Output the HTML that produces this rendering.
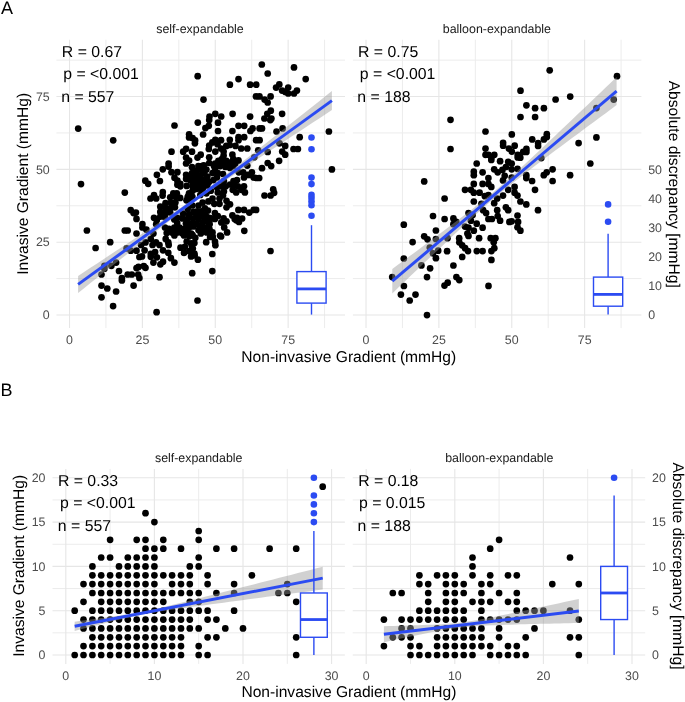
<!DOCTYPE html>
<html><head><meta charset="utf-8"><style>
html,body{margin:0;padding:0;background:#fff;}
svg{display:block;font-family:"Liberation Sans", sans-serif;will-change:transform;text-rendering:geometricPrecision;}
</style></head><body>
<svg width="685" height="702" viewBox="0 0 685 702">
<rect width="685" height="702" fill="#fff"/>
<line x1="56.40" x2="345.00" y1="278.59" y2="278.59" stroke="#ececec" stroke-width="1"/>
<line x1="56.40" x2="345.00" y1="205.76" y2="205.76" stroke="#ececec" stroke-width="1"/>
<line x1="56.40" x2="345.00" y1="132.94" y2="132.94" stroke="#ececec" stroke-width="1"/>
<line x1="56.40" x2="345.00" y1="60.11" y2="60.11" stroke="#ececec" stroke-width="1"/>
<line x1="105.95" x2="105.95" y1="39.70" y2="328.10" stroke="#ececec" stroke-width="1"/>
<line x1="178.83" x2="178.83" y1="39.70" y2="328.10" stroke="#ececec" stroke-width="1"/>
<line x1="251.71" x2="251.71" y1="39.70" y2="328.10" stroke="#ececec" stroke-width="1"/>
<line x1="324.58" x2="324.58" y1="39.70" y2="328.10" stroke="#ececec" stroke-width="1"/>
<line x1="56.40" x2="345.00" y1="315.00" y2="315.00" stroke="#e6e6e6" stroke-width="1.1"/>
<line x1="56.40" x2="345.00" y1="242.18" y2="242.18" stroke="#e6e6e6" stroke-width="1.1"/>
<line x1="56.40" x2="345.00" y1="169.35" y2="169.35" stroke="#e6e6e6" stroke-width="1.1"/>
<line x1="56.40" x2="345.00" y1="96.53" y2="96.53" stroke="#e6e6e6" stroke-width="1.1"/>
<line x1="69.52" x2="69.52" y1="39.70" y2="328.10" stroke="#e6e6e6" stroke-width="1.1"/>
<line x1="142.39" x2="142.39" y1="39.70" y2="328.10" stroke="#e6e6e6" stroke-width="1.1"/>
<line x1="215.27" x2="215.27" y1="39.70" y2="328.10" stroke="#e6e6e6" stroke-width="1.1"/>
<line x1="288.14" x2="288.14" y1="39.70" y2="328.10" stroke="#e6e6e6" stroke-width="1.1"/>
<line x1="352.90" x2="641.40" y1="278.59" y2="278.59" stroke="#ececec" stroke-width="1"/>
<line x1="352.90" x2="641.40" y1="205.76" y2="205.76" stroke="#ececec" stroke-width="1"/>
<line x1="352.90" x2="641.40" y1="132.94" y2="132.94" stroke="#ececec" stroke-width="1"/>
<line x1="352.90" x2="641.40" y1="60.11" y2="60.11" stroke="#ececec" stroke-width="1"/>
<line x1="402.45" x2="402.45" y1="39.70" y2="328.10" stroke="#ececec" stroke-width="1"/>
<line x1="475.33" x2="475.33" y1="39.70" y2="328.10" stroke="#ececec" stroke-width="1"/>
<line x1="548.20" x2="548.20" y1="39.70" y2="328.10" stroke="#ececec" stroke-width="1"/>
<line x1="621.08" x2="621.08" y1="39.70" y2="328.10" stroke="#ececec" stroke-width="1"/>
<line x1="352.90" x2="641.40" y1="315.00" y2="315.00" stroke="#e6e6e6" stroke-width="1.1"/>
<line x1="352.90" x2="641.40" y1="242.18" y2="242.18" stroke="#e6e6e6" stroke-width="1.1"/>
<line x1="352.90" x2="641.40" y1="169.35" y2="169.35" stroke="#e6e6e6" stroke-width="1.1"/>
<line x1="352.90" x2="641.40" y1="96.53" y2="96.53" stroke="#e6e6e6" stroke-width="1.1"/>
<line x1="366.02" x2="366.02" y1="39.70" y2="328.10" stroke="#e6e6e6" stroke-width="1.1"/>
<line x1="438.89" x2="438.89" y1="39.70" y2="328.10" stroke="#e6e6e6" stroke-width="1.1"/>
<line x1="511.77" x2="511.77" y1="39.70" y2="328.10" stroke="#e6e6e6" stroke-width="1.1"/>
<line x1="584.64" x2="584.64" y1="39.70" y2="328.10" stroke="#e6e6e6" stroke-width="1.1"/>
<line x1="52.50" x2="344.90" y1="632.85" y2="632.85" stroke="#ececec" stroke-width="1"/>
<line x1="52.50" x2="344.90" y1="588.55" y2="588.55" stroke="#ececec" stroke-width="1"/>
<line x1="52.50" x2="344.90" y1="544.25" y2="544.25" stroke="#ececec" stroke-width="1"/>
<line x1="52.50" x2="344.90" y1="499.95" y2="499.95" stroke="#ececec" stroke-width="1"/>
<line x1="110.10" x2="110.10" y1="468.90" y2="663.90" stroke="#ececec" stroke-width="1"/>
<line x1="198.70" x2="198.70" y1="468.90" y2="663.90" stroke="#ececec" stroke-width="1"/>
<line x1="287.30" x2="287.30" y1="468.90" y2="663.90" stroke="#ececec" stroke-width="1"/>
<line x1="52.50" x2="344.90" y1="655.00" y2="655.00" stroke="#e6e6e6" stroke-width="1.1"/>
<line x1="52.50" x2="344.90" y1="610.70" y2="610.70" stroke="#e6e6e6" stroke-width="1.1"/>
<line x1="52.50" x2="344.90" y1="566.40" y2="566.40" stroke="#e6e6e6" stroke-width="1.1"/>
<line x1="52.50" x2="344.90" y1="522.10" y2="522.10" stroke="#e6e6e6" stroke-width="1.1"/>
<line x1="52.50" x2="344.90" y1="477.80" y2="477.80" stroke="#e6e6e6" stroke-width="1.1"/>
<line x1="65.80" x2="65.80" y1="468.90" y2="663.90" stroke="#e6e6e6" stroke-width="1.1"/>
<line x1="154.40" x2="154.40" y1="468.90" y2="663.90" stroke="#e6e6e6" stroke-width="1.1"/>
<line x1="243.00" x2="243.00" y1="468.90" y2="663.90" stroke="#e6e6e6" stroke-width="1.1"/>
<line x1="331.60" x2="331.60" y1="468.90" y2="663.90" stroke="#e6e6e6" stroke-width="1.1"/>
<line x1="352.70" x2="645.20" y1="632.85" y2="632.85" stroke="#ececec" stroke-width="1"/>
<line x1="352.70" x2="645.20" y1="588.55" y2="588.55" stroke="#ececec" stroke-width="1"/>
<line x1="352.70" x2="645.20" y1="544.25" y2="544.25" stroke="#ececec" stroke-width="1"/>
<line x1="352.70" x2="645.20" y1="499.95" y2="499.95" stroke="#ececec" stroke-width="1"/>
<line x1="410.50" x2="410.50" y1="468.90" y2="663.90" stroke="#ececec" stroke-width="1"/>
<line x1="499.10" x2="499.10" y1="468.90" y2="663.90" stroke="#ececec" stroke-width="1"/>
<line x1="587.70" x2="587.70" y1="468.90" y2="663.90" stroke="#ececec" stroke-width="1"/>
<line x1="352.70" x2="645.20" y1="655.00" y2="655.00" stroke="#e6e6e6" stroke-width="1.1"/>
<line x1="352.70" x2="645.20" y1="610.70" y2="610.70" stroke="#e6e6e6" stroke-width="1.1"/>
<line x1="352.70" x2="645.20" y1="566.40" y2="566.40" stroke="#e6e6e6" stroke-width="1.1"/>
<line x1="352.70" x2="645.20" y1="522.10" y2="522.10" stroke="#e6e6e6" stroke-width="1.1"/>
<line x1="352.70" x2="645.20" y1="477.80" y2="477.80" stroke="#e6e6e6" stroke-width="1.1"/>
<line x1="366.20" x2="366.20" y1="468.90" y2="663.90" stroke="#e6e6e6" stroke-width="1.1"/>
<line x1="454.80" x2="454.80" y1="468.90" y2="663.90" stroke="#e6e6e6" stroke-width="1.1"/>
<line x1="543.40" x2="543.40" y1="468.90" y2="663.90" stroke="#e6e6e6" stroke-width="1.1"/>
<line x1="632.00" x2="632.00" y1="468.90" y2="663.90" stroke="#e6e6e6" stroke-width="1.1"/>
<text x="61.86" y="56.80" font-size="15.8" fill="#000" text-anchor="start">R = 0.67</text>
<text x="63.27" y="79.00" font-size="15.8" fill="#000" text-anchor="start">p = &lt;0.001</text>
<text x="61.27" y="101.80" font-size="15.8" fill="#000" text-anchor="start">n = 557</text>
<text x="358.06" y="56.80" font-size="15.8" fill="#000" text-anchor="start">R = 0.75</text>
<text x="359.87" y="79.10" font-size="15.8" fill="#000" text-anchor="start">p = &lt;0.001</text>
<text x="357.37" y="102.00" font-size="15.8" fill="#000" text-anchor="start">n = 188</text>
<text x="57.96" y="486.00" font-size="15.8" fill="#000" text-anchor="start">R = 0.33</text>
<text x="60.07" y="508.30" font-size="15.8" fill="#000" text-anchor="start">p = &lt;0.001</text>
<text x="57.87" y="530.90" font-size="15.8" fill="#000" text-anchor="start">n = 557</text>
<text x="358.26" y="485.90" font-size="15.8" fill="#000" text-anchor="start">R = 0.18</text>
<text x="358.97" y="508.40" font-size="15.8" fill="#000" text-anchor="start">p = 0.015</text>
<text x="357.57" y="530.70" font-size="15.8" fill="#000" text-anchor="start">n = 188</text>
<g fill="#000"><circle cx="78.2" cy="128.6" r="3.35"/><circle cx="113.2" cy="140.3" r="3.35"/><circle cx="197.7" cy="76.2" r="3.35"/><circle cx="203.5" cy="99.6" r="3.35"/><circle cx="261.8" cy="64.5" r="3.35"/><circle cx="267.7" cy="73.5" r="3.35"/><circle cx="238.5" cy="79.1" r="3.35"/><circle cx="229.9" cy="84.7" r="3.35"/><circle cx="250.1" cy="84.7" r="3.35"/><circle cx="256.2" cy="84.7" r="3.35"/><circle cx="279.3" cy="84.4" r="3.35"/><circle cx="276.1" cy="87.6" r="3.35"/><circle cx="282.1" cy="90.6" r="3.35"/><circle cx="285.4" cy="92.0" r="3.35"/><circle cx="256.0" cy="96.4" r="3.35"/><circle cx="259.5" cy="96.4" r="3.35"/><circle cx="264.6" cy="99.6" r="3.35"/><circle cx="267.7" cy="102.5" r="3.35"/><circle cx="270.6" cy="96.4" r="3.35"/><circle cx="270.8" cy="110.7" r="3.35"/><circle cx="267.3" cy="113.8" r="3.35"/><circle cx="282.1" cy="113.8" r="3.35"/><circle cx="232.6" cy="113.8" r="3.35"/><circle cx="250.1" cy="116.6" r="3.35"/><circle cx="215.3" cy="113.8" r="3.35"/><circle cx="209.5" cy="116.5" r="3.35"/><circle cx="221.2" cy="116.5" r="3.35"/><circle cx="264.4" cy="118.5" r="3.35"/><circle cx="271.4" cy="118.5" r="3.35"/><circle cx="294.0" cy="67.4" r="3.35"/><circle cx="305.7" cy="79.1" r="3.35"/><circle cx="288.2" cy="87.6" r="3.35"/><circle cx="288.2" cy="93.5" r="3.35"/><circle cx="294.0" cy="93.5" r="3.35"/><circle cx="296.9" cy="90.6" r="3.35"/><circle cx="174.5" cy="125.5" r="3.35"/><circle cx="197.8" cy="122.6" r="3.35"/><circle cx="205.4" cy="128.1" r="3.35"/><circle cx="203.1" cy="134.5" r="3.35"/><circle cx="189.1" cy="134.3" r="3.35"/><circle cx="189.1" cy="137.4" r="3.35"/><circle cx="192.6" cy="138.0" r="3.35"/><circle cx="195.1" cy="140.4" r="3.35"/><circle cx="194.9" cy="143.3" r="3.35"/><circle cx="171.5" cy="151.7" r="3.35"/><circle cx="186.1" cy="148.8" r="3.35"/><circle cx="183.2" cy="151.7" r="3.35"/><circle cx="192.0" cy="151.7" r="3.35"/><circle cx="200.7" cy="154.7" r="3.35"/><circle cx="197.5" cy="157.6" r="3.35"/><circle cx="186.1" cy="157.6" r="3.35"/><circle cx="189.1" cy="160.6" r="3.35"/><circle cx="186.1" cy="163.5" r="3.35"/><circle cx="168.6" cy="163.5" r="3.35"/><circle cx="168.6" cy="166.6" r="3.35"/><circle cx="162.8" cy="169.3" r="3.35"/><circle cx="171.5" cy="172.2" r="3.35"/><circle cx="177.4" cy="172.2" r="3.35"/><circle cx="156.9" cy="174.8" r="3.35"/><circle cx="159.9" cy="181.0" r="3.35"/><circle cx="145.3" cy="180.7" r="3.35"/><circle cx="148.2" cy="183.8" r="3.35"/><circle cx="174.5" cy="177.7" r="3.35"/><circle cx="177.4" cy="180.7" r="3.35"/><circle cx="180.3" cy="183.8" r="3.35"/><circle cx="177.4" cy="184.7" r="3.35"/><circle cx="192.0" cy="167.2" r="3.35"/><circle cx="198.4" cy="166.1" r="3.35"/><circle cx="201.9" cy="166.1" r="3.35"/><circle cx="186.1" cy="174.8" r="3.35"/><circle cx="192.0" cy="173.1" r="3.35"/><circle cx="196.1" cy="170.7" r="3.35"/><circle cx="200.7" cy="169.6" r="3.35"/><circle cx="186.1" cy="178.9" r="3.35"/><circle cx="190.2" cy="180.1" r="3.35"/><circle cx="194.9" cy="177.7" r="3.35"/><circle cx="200.7" cy="175.4" r="3.35"/><circle cx="204.2" cy="173.1" r="3.35"/><circle cx="198.4" cy="181.2" r="3.35"/><circle cx="203.1" cy="182.4" r="3.35"/><circle cx="186.7" cy="185.9" r="3.35"/><circle cx="192.6" cy="185.9" r="3.35"/><circle cx="197.2" cy="187.1" r="3.35"/><circle cx="203.1" cy="187.7" r="3.35"/><circle cx="209.2" cy="120.1" r="3.35"/><circle cx="218.0" cy="122.7" r="3.35"/><circle cx="208.8" cy="125.8" r="3.35"/><circle cx="218.0" cy="131.0" r="3.35"/><circle cx="232.4" cy="131.0" r="3.35"/><circle cx="238.5" cy="125.8" r="3.35"/><circle cx="244.2" cy="125.8" r="3.35"/><circle cx="252.6" cy="128.4" r="3.35"/><circle cx="250.4" cy="131.0" r="3.35"/><circle cx="259.6" cy="128.4" r="3.35"/><circle cx="238.5" cy="137.2" r="3.35"/><circle cx="244.2" cy="137.2" r="3.35"/><circle cx="238.5" cy="140.2" r="3.35"/><circle cx="229.8" cy="139.8" r="3.35"/><circle cx="221.0" cy="140.2" r="3.35"/><circle cx="215.3" cy="139.8" r="3.35"/><circle cx="212.3" cy="142.4" r="3.35"/><circle cx="209.2" cy="145.5" r="3.35"/><circle cx="208.8" cy="149.0" r="3.35"/><circle cx="217.5" cy="144.2" r="3.35"/><circle cx="221.0" cy="148.5" r="3.35"/><circle cx="226.3" cy="145.9" r="3.35"/><circle cx="229.8" cy="145.0" r="3.35"/><circle cx="235.5" cy="145.9" r="3.35"/><circle cx="241.2" cy="148.5" r="3.35"/><circle cx="247.3" cy="148.5" r="3.35"/><circle cx="256.1" cy="140.2" r="3.35"/><circle cx="259.6" cy="140.2" r="3.35"/><circle cx="215.3" cy="151.6" r="3.35"/><circle cx="223.6" cy="151.6" r="3.35"/><circle cx="209.2" cy="157.3" r="3.35"/><circle cx="223.6" cy="155.5" r="3.35"/><circle cx="221.9" cy="159.0" r="3.35"/><circle cx="232.4" cy="154.7" r="3.35"/><circle cx="233.3" cy="159.0" r="3.35"/><circle cx="238.5" cy="160.4" r="3.35"/><circle cx="218.4" cy="160.8" r="3.35"/><circle cx="226.3" cy="160.8" r="3.35"/><circle cx="229.8" cy="162.6" r="3.35"/><circle cx="209.2" cy="163.0" r="3.35"/><circle cx="214.0" cy="166.1" r="3.35"/><circle cx="220.1" cy="166.1" r="3.35"/><circle cx="225.4" cy="166.9" r="3.35"/><circle cx="233.3" cy="166.1" r="3.35"/><circle cx="247.3" cy="165.6" r="3.35"/><circle cx="254.3" cy="157.3" r="3.35"/><circle cx="258.2" cy="150.3" r="3.35"/><circle cx="270.3" cy="120.1" r="3.35"/><circle cx="262.0" cy="128.4" r="3.35"/><circle cx="276.5" cy="131.5" r="3.35"/><circle cx="282.6" cy="128.4" r="3.35"/><circle cx="279.5" cy="143.3" r="3.35"/><circle cx="285.2" cy="145.9" r="3.35"/><circle cx="267.7" cy="152.0" r="3.35"/><circle cx="282.2" cy="151.6" r="3.35"/><circle cx="285.2" cy="154.7" r="3.35"/><circle cx="299.7" cy="137.2" r="3.35"/><circle cx="293.5" cy="149.0" r="3.35"/><circle cx="297.9" cy="149.0" r="3.35"/><circle cx="279.1" cy="160.8" r="3.35"/><circle cx="267.7" cy="163.0" r="3.35"/><circle cx="271.2" cy="166.1" r="3.35"/><circle cx="262.0" cy="168.2" r="3.35"/><circle cx="328.9" cy="131.5" r="3.35"/><circle cx="331.9" cy="169.4" r="3.35"/><circle cx="180.3" cy="186.3" r="3.35"/><circle cx="162.8" cy="192.0" r="3.35"/><circle cx="154.0" cy="195.0" r="3.35"/><circle cx="150.5" cy="198.5" r="3.35"/><circle cx="173.3" cy="193.3" r="3.35"/><circle cx="176.8" cy="193.3" r="3.35"/><circle cx="154.0" cy="217.8" r="3.35"/><circle cx="189.0" cy="193.3" r="3.35"/><circle cx="192.6" cy="190.7" r="3.35"/><circle cx="196.1" cy="188.9" r="3.35"/><circle cx="190.8" cy="177.5" r="3.35"/><circle cx="194.3" cy="174.9" r="3.35"/><circle cx="197.8" cy="177.5" r="3.35"/><circle cx="192.6" cy="182.8" r="3.35"/><circle cx="196.9" cy="183.6" r="3.35"/><circle cx="203.8" cy="165.3" r="3.35"/><circle cx="215.1" cy="163.5" r="3.35"/><circle cx="219.5" cy="162.6" r="3.35"/><circle cx="224.8" cy="163.5" r="3.35"/><circle cx="235.3" cy="163.5" r="3.35"/><circle cx="230.0" cy="167.9" r="3.35"/><circle cx="215.1" cy="168.8" r="3.35"/><circle cx="206.4" cy="169.6" r="3.35"/><circle cx="196.8" cy="174.0" r="3.35"/><circle cx="207.3" cy="176.6" r="3.35"/><circle cx="212.5" cy="173.1" r="3.35"/><circle cx="217.8" cy="173.1" r="3.35"/><circle cx="223.0" cy="174.0" r="3.35"/><circle cx="216.9" cy="177.5" r="3.35"/><circle cx="213.4" cy="180.1" r="3.35"/><circle cx="209.0" cy="181.9" r="3.35"/><circle cx="203.8" cy="180.1" r="3.35"/><circle cx="202.0" cy="184.5" r="3.35"/><circle cx="207.3" cy="185.4" r="3.35"/><circle cx="201.1" cy="189.8" r="3.35"/><circle cx="233.5" cy="181.0" r="3.35"/><circle cx="237.0" cy="180.1" r="3.35"/><circle cx="230.0" cy="184.5" r="3.35"/><circle cx="234.4" cy="185.4" r="3.35"/><circle cx="237.9" cy="186.3" r="3.35"/><circle cx="232.7" cy="189.8" r="3.35"/><circle cx="236.2" cy="192.4" r="3.35"/><circle cx="244.0" cy="186.3" r="3.35"/><circle cx="241.4" cy="189.8" r="3.35"/><circle cx="244.9" cy="192.4" r="3.35"/><circle cx="244.0" cy="177.5" r="3.35"/><circle cx="247.6" cy="174.9" r="3.35"/><circle cx="251.9" cy="172.3" r="3.35"/><circle cx="253.7" cy="177.5" r="3.35"/><circle cx="243.2" cy="172.3" r="3.35"/><circle cx="238.8" cy="172.3" r="3.35"/><circle cx="223.9" cy="181.0" r="3.35"/><circle cx="221.3" cy="186.3" r="3.35"/><circle cx="225.7" cy="186.3" r="3.35"/><circle cx="216.9" cy="187.2" r="3.35"/><circle cx="223.9" cy="191.5" r="3.35"/><circle cx="217.8" cy="192.4" r="3.35"/><circle cx="210.8" cy="190.7" r="3.35"/><circle cx="206.4" cy="193.3" r="3.35"/><circle cx="200.3" cy="195.0" r="3.35"/><circle cx="238.4" cy="209.9" r="3.35"/><circle cx="244.0" cy="209.9" r="3.35"/><circle cx="249.3" cy="212.6" r="3.35"/><circle cx="253.7" cy="209.9" r="3.35"/><circle cx="237.0" cy="217.8" r="3.35"/><circle cx="250.4" cy="174.9" r="3.35"/><circle cx="256.1" cy="178.0" r="3.35"/><circle cx="259.2" cy="178.0" r="3.35"/><circle cx="273.2" cy="189.3" r="3.35"/><circle cx="274.1" cy="192.8" r="3.35"/><circle cx="270.6" cy="195.5" r="3.35"/><circle cx="264.5" cy="195.5" r="3.35"/><circle cx="256.1" cy="209.9" r="3.35"/><circle cx="81.0" cy="184.1" r="3.35"/><circle cx="124.8" cy="192.6" r="3.35"/><circle cx="130.7" cy="210.1" r="3.35"/><circle cx="133.6" cy="213.1" r="3.35"/><circle cx="136.5" cy="218.9" r="3.35"/><circle cx="86.9" cy="230.5" r="3.35"/><circle cx="124.8" cy="230.5" r="3.35"/><circle cx="127.7" cy="230.5" r="3.35"/><circle cx="136.5" cy="233.5" r="3.35"/><circle cx="110.2" cy="242.2" r="3.35"/><circle cx="95.6" cy="248.0" r="3.35"/><circle cx="126.6" cy="248.3" r="3.35"/><circle cx="130.7" cy="250.7" r="3.35"/><circle cx="136.5" cy="250.7" r="3.35"/><circle cx="135.9" cy="212.6" r="3.35"/><circle cx="142.4" cy="224.0" r="3.35"/><circle cx="142.4" cy="227.5" r="3.35"/><circle cx="146.4" cy="229.7" r="3.35"/><circle cx="153.4" cy="233.6" r="3.35"/><circle cx="150.8" cy="238.9" r="3.35"/><circle cx="145.5" cy="242.4" r="3.35"/><circle cx="141.1" cy="245.0" r="3.35"/><circle cx="144.6" cy="250.3" r="3.35"/><circle cx="152.5" cy="245.0" r="3.35"/><circle cx="156.0" cy="242.4" r="3.35"/><circle cx="159.5" cy="245.0" r="3.35"/><circle cx="150.8" cy="253.8" r="3.35"/><circle cx="155.1" cy="252.0" r="3.35"/><circle cx="163.0" cy="250.3" r="3.35"/><circle cx="156.9" cy="257.3" r="3.35"/><circle cx="142.0" cy="256.4" r="3.35"/><circle cx="153.4" cy="262.6" r="3.35"/><circle cx="160.4" cy="264.3" r="3.35"/><circle cx="163.0" cy="261.7" r="3.35"/><circle cx="143.8" cy="266.1" r="3.35"/><circle cx="138.5" cy="266.9" r="3.35"/><circle cx="145.5" cy="267.8" r="3.35"/><circle cx="165.7" cy="238.9" r="3.35"/><circle cx="168.3" cy="242.4" r="3.35"/><circle cx="168.7" cy="245.0" r="3.35"/><circle cx="168.3" cy="252.9" r="3.35"/><circle cx="170.9" cy="258.2" r="3.35"/><circle cx="174.4" cy="262.6" r="3.35"/><circle cx="174.4" cy="235.4" r="3.35"/><circle cx="184.0" cy="235.4" r="3.35"/><circle cx="189.3" cy="236.3" r="3.35"/><circle cx="186.7" cy="241.5" r="3.35"/><circle cx="191.1" cy="243.3" r="3.35"/><circle cx="180.5" cy="247.7" r="3.35"/><circle cx="184.9" cy="246.8" r="3.35"/><circle cx="184.0" cy="252.9" r="3.35"/><circle cx="189.3" cy="251.2" r="3.35"/><circle cx="192.8" cy="248.5" r="3.35"/><circle cx="191.1" cy="256.4" r="3.35"/><circle cx="194.6" cy="255.5" r="3.35"/><circle cx="195.3" cy="223.8" r="3.35"/><circle cx="210.1" cy="236.9" r="3.35"/><circle cx="212.8" cy="236.9" r="3.35"/><circle cx="192.6" cy="235.1" r="3.35"/><circle cx="195.3" cy="237.8" r="3.35"/><circle cx="194.4" cy="243.0" r="3.35"/><circle cx="191.8" cy="245.7" r="3.35"/><circle cx="206.2" cy="242.2" r="3.35"/><circle cx="215.0" cy="241.7" r="3.35"/><circle cx="215.4" cy="245.2" r="3.35"/><circle cx="212.3" cy="254.0" r="3.35"/><circle cx="194.4" cy="253.5" r="3.35"/><circle cx="197.9" cy="259.7" r="3.35"/><circle cx="212.3" cy="271.1" r="3.35"/><circle cx="192.2" cy="273.2" r="3.35"/><circle cx="221.1" cy="236.5" r="3.35"/><circle cx="236.4" cy="220.3" r="3.35"/><circle cx="239.0" cy="222.0" r="3.35"/><circle cx="242.1" cy="218.5" r="3.35"/><circle cx="244.3" cy="230.8" r="3.35"/><circle cx="270.5" cy="251.0" r="3.35"/><circle cx="104.4" cy="265.8" r="3.35"/><circle cx="104.4" cy="268.7" r="3.35"/><circle cx="111.4" cy="265.8" r="3.35"/><circle cx="116.1" cy="262.6" r="3.35"/><circle cx="101.5" cy="274.5" r="3.35"/><circle cx="119.0" cy="271.0" r="3.35"/><circle cx="121.9" cy="278.0" r="3.35"/><circle cx="121.9" cy="280.4" r="3.35"/><circle cx="127.7" cy="274.5" r="3.35"/><circle cx="131.8" cy="274.5" r="3.35"/><circle cx="136.5" cy="268.1" r="3.35"/><circle cx="138.2" cy="274.5" r="3.35"/><circle cx="139.4" cy="278.0" r="3.35"/><circle cx="139.4" cy="257.0" r="3.35"/><circle cx="101.5" cy="285.6" r="3.35"/><circle cx="107.3" cy="288.5" r="3.35"/><circle cx="116.1" cy="291.5" r="3.35"/><circle cx="101.5" cy="297.3" r="3.35"/><circle cx="113.1" cy="306.1" r="3.35"/><circle cx="133.6" cy="285.6" r="3.35"/><circle cx="150.8" cy="256.8" r="3.35"/><circle cx="159.5" cy="277.2" r="3.35"/><circle cx="156.6" cy="312.2" r="3.35"/><circle cx="197.5" cy="300.5" r="3.35"/><circle cx="212.5" cy="198.5" r="3.35"/><circle cx="219.5" cy="198.5" r="3.35"/><circle cx="226.5" cy="200.8" r="3.35"/><circle cx="230.0" cy="204.3" r="3.35"/><circle cx="226.5" cy="207.3" r="3.35"/><circle cx="219.5" cy="203.8" r="3.35"/><circle cx="214.3" cy="203.8" r="3.35"/><circle cx="208.4" cy="201.4" r="3.35"/><circle cx="223.0" cy="195.5" r="3.35"/><circle cx="198.5" cy="205.5" r="3.35"/><circle cx="204.9" cy="208.4" r="3.35"/><circle cx="197.3" cy="211.4" r="3.35"/><circle cx="205.5" cy="214.3" r="3.35"/><circle cx="198.5" cy="219.5" r="3.35"/><circle cx="204.9" cy="220.1" r="3.35"/><circle cx="209.0" cy="223.0" r="3.35"/><circle cx="200.8" cy="225.4" r="3.35"/><circle cx="198.5" cy="230.0" r="3.35"/><circle cx="204.9" cy="227.7" r="3.35"/><circle cx="214.9" cy="213.1" r="3.35"/><circle cx="217.8" cy="216.0" r="3.35"/><circle cx="214.9" cy="218.9" r="3.35"/><circle cx="211.4" cy="218.4" r="3.35"/><circle cx="209.6" cy="224.2" r="3.35"/><circle cx="223.6" cy="218.4" r="3.35"/><circle cx="226.5" cy="221.3" r="3.35"/><circle cx="221.3" cy="222.4" r="3.35"/><circle cx="224.2" cy="227.4" r="3.35"/><circle cx="232.4" cy="215.4" r="3.35"/><circle cx="234.7" cy="218.9" r="3.35"/><circle cx="200.8" cy="233.5" r="3.35"/><circle cx="206.7" cy="232.4" r="3.35"/><circle cx="212.5" cy="232.4" r="3.35"/><circle cx="227.1" cy="232.4" r="3.35"/><circle cx="220.1" cy="235.5" r="3.35"/><circle cx="202.6" cy="202.6" r="3.35"/><circle cx="201.4" cy="211.4" r="3.35"/><circle cx="201.0" cy="216.5" r="3.35"/><circle cx="208.5" cy="217.5" r="3.35"/><circle cx="196.5" cy="215.5" r="3.35"/><circle cx="196.5" cy="224.0" r="3.35"/><circle cx="203.0" cy="222.5" r="3.35"/><circle cx="208.0" cy="210.5" r="3.35"/><circle cx="202.5" cy="230.5" r="3.35"/><circle cx="209.5" cy="229.0" r="3.35"/><circle cx="156.2" cy="198.5" r="3.35"/><circle cx="162.6" cy="195.6" r="3.35"/><circle cx="170.2" cy="197.3" r="3.35"/><circle cx="175.4" cy="196.8" r="3.35"/><circle cx="180.1" cy="197.9" r="3.35"/><circle cx="187.7" cy="196.8" r="3.35"/><circle cx="192.4" cy="196.8" r="3.35"/><circle cx="165.5" cy="203.2" r="3.35"/><circle cx="170.8" cy="202.6" r="3.35"/><circle cx="175.4" cy="202.6" r="3.35"/><circle cx="160.3" cy="206.7" r="3.35"/><circle cx="165.5" cy="208.4" r="3.35"/><circle cx="170.8" cy="207.8" r="3.35"/><circle cx="174.9" cy="207.3" r="3.35"/><circle cx="160.3" cy="211.9" r="3.35"/><circle cx="165.5" cy="213.1" r="3.35"/><circle cx="170.2" cy="212.5" r="3.35"/><circle cx="160.3" cy="216.6" r="3.35"/><circle cx="164.9" cy="217.2" r="3.35"/><circle cx="156.8" cy="220.1" r="3.35"/><circle cx="156.2" cy="224.2" r="3.35"/><circle cx="187.7" cy="209.0" r="3.35"/><circle cx="192.4" cy="205.5" r="3.35"/><circle cx="183.0" cy="213.7" r="3.35"/><circle cx="188.9" cy="214.3" r="3.35"/><circle cx="193.5" cy="211.9" r="3.35"/><circle cx="177.2" cy="217.8" r="3.35"/><circle cx="182.4" cy="218.4" r="3.35"/><circle cx="187.7" cy="218.9" r="3.35"/><circle cx="193.0" cy="218.4" r="3.35"/><circle cx="174.3" cy="219.5" r="3.35"/><circle cx="177.2" cy="223.0" r="3.35"/><circle cx="185.9" cy="223.6" r="3.35"/><circle cx="191.2" cy="224.2" r="3.35"/><circle cx="165.0" cy="227.5" r="3.35"/><circle cx="169.0" cy="228.9" r="3.35"/><circle cx="174.3" cy="227.7" r="3.35"/><circle cx="179.5" cy="227.7" r="3.35"/><circle cx="184.2" cy="228.9" r="3.35"/><circle cx="188.9" cy="227.7" r="3.35"/><circle cx="193.5" cy="226.5" r="3.35"/><circle cx="166.7" cy="233.0" r="3.35"/><circle cx="171.9" cy="232.4" r="3.35"/><circle cx="177.2" cy="232.4" r="3.35"/><circle cx="181.9" cy="233.0" r="3.35"/><circle cx="187.1" cy="232.4" r="3.35"/><circle cx="191.2" cy="233.5" r="3.35"/><circle cx="186.5" cy="200.3" r="3.35"/><circle cx="190.5" cy="201.5" r="3.35"/></g>
<g fill="#000"><circle cx="424.2" cy="181.4" r="3.35"/><circle cx="433.0" cy="216.0" r="3.35"/><circle cx="403.8" cy="224.7" r="3.35"/><circle cx="435.9" cy="230.5" r="3.35"/><circle cx="424.2" cy="236.3" r="3.35"/><circle cx="427.5" cy="239.3" r="3.35"/><circle cx="435.9" cy="239.0" r="3.35"/><circle cx="412.6" cy="242.1" r="3.35"/><circle cx="429.8" cy="247.5" r="3.35"/><circle cx="433.0" cy="253.3" r="3.35"/><circle cx="438.2" cy="250.7" r="3.35"/><circle cx="435.9" cy="258.2" r="3.35"/><circle cx="403.8" cy="258.5" r="3.35"/><circle cx="392.2" cy="277.1" r="3.35"/><circle cx="421.4" cy="265.4" r="3.35"/><circle cx="430.1" cy="268.3" r="3.35"/><circle cx="427.0" cy="277.1" r="3.35"/><circle cx="447.1" cy="251.2" r="3.35"/><circle cx="403.9" cy="286.0" r="3.35"/><circle cx="400.9" cy="294.6" r="3.35"/><circle cx="415.5" cy="294.6" r="3.35"/><circle cx="409.7" cy="300.5" r="3.35"/><circle cx="427.0" cy="315.1" r="3.35"/><circle cx="444.5" cy="285.6" r="3.35"/><circle cx="447.7" cy="282.7" r="3.35"/><circle cx="459.3" cy="242.3" r="3.35"/><circle cx="462.2" cy="245.3" r="3.35"/><circle cx="465.1" cy="248.2" r="3.35"/><circle cx="468.0" cy="251.1" r="3.35"/><circle cx="462.2" cy="256.9" r="3.35"/><circle cx="453.4" cy="265.5" r="3.35"/><circle cx="456.4" cy="277.1" r="3.35"/><circle cx="459.3" cy="280.1" r="3.35"/><circle cx="476.8" cy="251.1" r="3.35"/><circle cx="482.6" cy="251.1" r="3.35"/><circle cx="491.4" cy="251.1" r="3.35"/><circle cx="494.3" cy="248.2" r="3.35"/><circle cx="493.7" cy="242.3" r="3.35"/><circle cx="491.4" cy="259.9" r="3.35"/><circle cx="488.5" cy="285.9" r="3.35"/><circle cx="476.7" cy="163.5" r="3.35"/><circle cx="473.8" cy="171.7" r="3.35"/><circle cx="473.8" cy="175.2" r="3.35"/><circle cx="482.6" cy="172.3" r="3.35"/><circle cx="494.2" cy="169.3" r="3.35"/><circle cx="497.7" cy="172.3" r="3.35"/><circle cx="500.1" cy="161.2" r="3.35"/><circle cx="491.3" cy="160.0" r="3.35"/><circle cx="505.9" cy="167.0" r="3.35"/><circle cx="502.4" cy="169.9" r="3.35"/><circle cx="508.2" cy="161.8" r="3.35"/><circle cx="488.4" cy="178.1" r="3.35"/><circle cx="504.7" cy="175.8" r="3.35"/><circle cx="503.0" cy="180.4" r="3.35"/><circle cx="473.8" cy="183.9" r="3.35"/><circle cx="482.6" cy="183.9" r="3.35"/><circle cx="488.4" cy="183.9" r="3.35"/><circle cx="491.3" cy="186.9" r="3.35"/><circle cx="465.0" cy="189.8" r="3.35"/><circle cx="470.9" cy="189.8" r="3.35"/><circle cx="473.8" cy="192.7" r="3.35"/><circle cx="479.6" cy="192.7" r="3.35"/><circle cx="508.2" cy="189.8" r="3.35"/><circle cx="484.9" cy="196.2" r="3.35"/><circle cx="488.4" cy="195.0" r="3.35"/><circle cx="503.0" cy="195.6" r="3.35"/><circle cx="497.2" cy="198.5" r="3.35"/><circle cx="494.2" cy="203.2" r="3.35"/><circle cx="444.6" cy="198.5" r="3.35"/><circle cx="473.8" cy="201.5" r="3.35"/><circle cx="481.4" cy="203.8" r="3.35"/><circle cx="483.1" cy="210.2" r="3.35"/><circle cx="486.1" cy="213.1" r="3.35"/><circle cx="497.2" cy="210.2" r="3.35"/><circle cx="505.9" cy="207.3" r="3.35"/><circle cx="508.2" cy="210.2" r="3.35"/><circle cx="468.5" cy="213.1" r="3.35"/><circle cx="472.6" cy="214.9" r="3.35"/><circle cx="444.6" cy="219.0" r="3.35"/><circle cx="453.4" cy="218.4" r="3.35"/><circle cx="456.3" cy="221.9" r="3.35"/><circle cx="453.4" cy="224.2" r="3.35"/><circle cx="488.4" cy="219.0" r="3.35"/><circle cx="491.9" cy="219.0" r="3.35"/><circle cx="497.7" cy="216.1" r="3.35"/><circle cx="500.1" cy="220.7" r="3.35"/><circle cx="470.9" cy="220.7" r="3.35"/><circle cx="476.7" cy="223.7" r="3.35"/><circle cx="465.0" cy="226.6" r="3.35"/><circle cx="468.5" cy="227.7" r="3.35"/><circle cx="482.6" cy="227.7" r="3.35"/><circle cx="473.8" cy="230.7" r="3.35"/><circle cx="467.4" cy="233.6" r="3.35"/><circle cx="447.5" cy="238.2" r="3.35"/><circle cx="459.2" cy="238.2" r="3.35"/><circle cx="468.5" cy="235.9" r="3.35"/><circle cx="479.1" cy="238.2" r="3.35"/><circle cx="490.7" cy="238.2" r="3.35"/><circle cx="495.4" cy="238.2" r="3.35"/><circle cx="509.4" cy="221.9" r="3.35"/><circle cx="511.7" cy="163.5" r="3.35"/><circle cx="511.7" cy="169.3" r="3.35"/><circle cx="517.5" cy="168.8" r="3.35"/><circle cx="511.7" cy="177.5" r="3.35"/><circle cx="526.3" cy="175.2" r="3.35"/><circle cx="526.3" cy="178.1" r="3.35"/><circle cx="532.1" cy="181.0" r="3.35"/><circle cx="543.8" cy="175.2" r="3.35"/><circle cx="546.7" cy="172.3" r="3.35"/><circle cx="552.6" cy="169.3" r="3.35"/><circle cx="552.6" cy="181.0" r="3.35"/><circle cx="570.1" cy="175.2" r="3.35"/><circle cx="514.6" cy="186.9" r="3.35"/><circle cx="514.6" cy="192.7" r="3.35"/><circle cx="517.5" cy="195.6" r="3.35"/><circle cx="535.0" cy="189.8" r="3.35"/><circle cx="520.4" cy="201.5" r="3.35"/><circle cx="526.3" cy="204.4" r="3.35"/><circle cx="538.0" cy="210.2" r="3.35"/><circle cx="517.5" cy="215.5" r="3.35"/><circle cx="511.7" cy="221.3" r="3.35"/><circle cx="518.1" cy="221.9" r="3.35"/><circle cx="517.5" cy="227.2" r="3.35"/><circle cx="520.4" cy="230.7" r="3.35"/><circle cx="450.5" cy="119.8" r="3.35"/><circle cx="450.5" cy="149.0" r="3.35"/><circle cx="485.5" cy="131.5" r="3.35"/><circle cx="511.8" cy="134.4" r="3.35"/><circle cx="503.1" cy="142.8" r="3.35"/><circle cx="503.1" cy="145.7" r="3.35"/><circle cx="514.7" cy="145.7" r="3.35"/><circle cx="508.9" cy="148.6" r="3.35"/><circle cx="511.8" cy="151.6" r="3.35"/><circle cx="517.7" cy="154.8" r="3.35"/><circle cx="517.7" cy="157.4" r="3.35"/><circle cx="485.5" cy="148.6" r="3.35"/><circle cx="485.5" cy="154.8" r="3.35"/><circle cx="488.5" cy="154.8" r="3.35"/><circle cx="491.4" cy="157.4" r="3.35"/><circle cx="494.3" cy="154.8" r="3.35"/><circle cx="549.7" cy="70.3" r="3.35"/><circle cx="520.5" cy="90.7" r="3.35"/><circle cx="570.2" cy="96.6" r="3.35"/><circle cx="555.6" cy="99.5" r="3.35"/><circle cx="526.4" cy="105.3" r="3.35"/><circle cx="535.1" cy="108.2" r="3.35"/><circle cx="543.9" cy="108.2" r="3.35"/><circle cx="520.5" cy="117.0" r="3.35"/><circle cx="535.1" cy="117.0" r="3.35"/><circle cx="546.8" cy="134.2" r="3.35"/><circle cx="546.8" cy="137.1" r="3.35"/><circle cx="543.9" cy="139.4" r="3.35"/><circle cx="532.2" cy="139.4" r="3.35"/><circle cx="538.1" cy="143.1" r="3.35"/><circle cx="538.1" cy="146.0" r="3.35"/><circle cx="526.4" cy="148.9" r="3.35"/><circle cx="523.2" cy="151.9" r="3.35"/><circle cx="526.4" cy="151.9" r="3.35"/><circle cx="520.3" cy="157.7" r="3.35"/><circle cx="541.3" cy="158.1" r="3.35"/><circle cx="578.6" cy="143.1" r="3.35"/><circle cx="596.4" cy="137.4" r="3.35"/><circle cx="590.3" cy="163.5" r="3.35"/><circle cx="617.0" cy="76.2" r="3.35"/><circle cx="613.7" cy="99.6" r="3.35"/><circle cx="596.4" cy="108.1" r="3.35"/></g>
<g fill="#000"><circle cx="74.7" cy="655.0" r="3.35"/><circle cx="83.5" cy="655.0" r="3.35"/><circle cx="92.4" cy="655.0" r="3.35"/><circle cx="101.2" cy="655.0" r="3.35"/><circle cx="110.1" cy="655.0" r="3.35"/><circle cx="119.0" cy="655.0" r="3.35"/><circle cx="127.8" cy="655.0" r="3.35"/><circle cx="136.7" cy="655.0" r="3.35"/><circle cx="145.5" cy="655.0" r="3.35"/><circle cx="154.4" cy="655.0" r="3.35"/><circle cx="163.3" cy="655.0" r="3.35"/><circle cx="172.1" cy="655.0" r="3.35"/><circle cx="181.0" cy="655.0" r="3.35"/><circle cx="198.7" cy="655.0" r="3.35"/><circle cx="207.6" cy="655.0" r="3.35"/><circle cx="296.2" cy="655.0" r="3.35"/><circle cx="83.5" cy="646.1" r="3.35"/><circle cx="92.4" cy="646.1" r="3.35"/><circle cx="101.2" cy="646.1" r="3.35"/><circle cx="110.1" cy="646.1" r="3.35"/><circle cx="119.0" cy="646.1" r="3.35"/><circle cx="127.8" cy="646.1" r="3.35"/><circle cx="136.7" cy="646.1" r="3.35"/><circle cx="145.5" cy="646.1" r="3.35"/><circle cx="154.4" cy="646.1" r="3.35"/><circle cx="163.3" cy="646.1" r="3.35"/><circle cx="172.1" cy="646.1" r="3.35"/><circle cx="181.0" cy="646.1" r="3.35"/><circle cx="198.7" cy="646.1" r="3.35"/><circle cx="92.4" cy="637.3" r="3.35"/><circle cx="101.2" cy="637.3" r="3.35"/><circle cx="110.1" cy="637.3" r="3.35"/><circle cx="119.0" cy="637.3" r="3.35"/><circle cx="127.8" cy="637.3" r="3.35"/><circle cx="136.7" cy="637.3" r="3.35"/><circle cx="145.5" cy="637.3" r="3.35"/><circle cx="154.4" cy="637.3" r="3.35"/><circle cx="163.3" cy="637.3" r="3.35"/><circle cx="172.1" cy="637.3" r="3.35"/><circle cx="181.0" cy="637.3" r="3.35"/><circle cx="207.6" cy="637.3" r="3.35"/><circle cx="216.4" cy="637.3" r="3.35"/><circle cx="296.2" cy="637.3" r="3.35"/><circle cx="83.5" cy="628.4" r="3.35"/><circle cx="92.4" cy="628.4" r="3.35"/><circle cx="101.2" cy="628.4" r="3.35"/><circle cx="110.1" cy="628.4" r="3.35"/><circle cx="119.0" cy="628.4" r="3.35"/><circle cx="127.8" cy="628.4" r="3.35"/><circle cx="136.7" cy="628.4" r="3.35"/><circle cx="145.5" cy="628.4" r="3.35"/><circle cx="154.4" cy="628.4" r="3.35"/><circle cx="163.3" cy="628.4" r="3.35"/><circle cx="172.1" cy="628.4" r="3.35"/><circle cx="181.0" cy="628.4" r="3.35"/><circle cx="189.8" cy="628.4" r="3.35"/><circle cx="198.7" cy="628.4" r="3.35"/><circle cx="225.3" cy="628.4" r="3.35"/><circle cx="243.0" cy="628.4" r="3.35"/><circle cx="83.5" cy="619.6" r="3.35"/><circle cx="92.4" cy="619.6" r="3.35"/><circle cx="101.2" cy="619.6" r="3.35"/><circle cx="110.1" cy="619.6" r="3.35"/><circle cx="119.0" cy="619.6" r="3.35"/><circle cx="127.8" cy="619.6" r="3.35"/><circle cx="136.7" cy="619.6" r="3.35"/><circle cx="145.5" cy="619.6" r="3.35"/><circle cx="154.4" cy="619.6" r="3.35"/><circle cx="163.3" cy="619.6" r="3.35"/><circle cx="172.1" cy="619.6" r="3.35"/><circle cx="181.0" cy="619.6" r="3.35"/><circle cx="189.8" cy="619.6" r="3.35"/><circle cx="207.6" cy="619.6" r="3.35"/><circle cx="216.4" cy="619.6" r="3.35"/><circle cx="74.7" cy="610.7" r="3.35"/><circle cx="92.4" cy="610.7" r="3.35"/><circle cx="101.2" cy="610.7" r="3.35"/><circle cx="110.1" cy="610.7" r="3.35"/><circle cx="119.0" cy="610.7" r="3.35"/><circle cx="127.8" cy="610.7" r="3.35"/><circle cx="136.7" cy="610.7" r="3.35"/><circle cx="145.5" cy="610.7" r="3.35"/><circle cx="154.4" cy="610.7" r="3.35"/><circle cx="163.3" cy="610.7" r="3.35"/><circle cx="172.1" cy="610.7" r="3.35"/><circle cx="181.0" cy="610.7" r="3.35"/><circle cx="189.8" cy="610.7" r="3.35"/><circle cx="198.7" cy="610.7" r="3.35"/><circle cx="207.6" cy="610.7" r="3.35"/><circle cx="234.1" cy="610.7" r="3.35"/><circle cx="83.5" cy="601.8" r="3.35"/><circle cx="101.2" cy="601.8" r="3.35"/><circle cx="110.1" cy="601.8" r="3.35"/><circle cx="119.0" cy="601.8" r="3.35"/><circle cx="127.8" cy="601.8" r="3.35"/><circle cx="136.7" cy="601.8" r="3.35"/><circle cx="145.5" cy="601.8" r="3.35"/><circle cx="154.4" cy="601.8" r="3.35"/><circle cx="163.3" cy="601.8" r="3.35"/><circle cx="189.8" cy="601.8" r="3.35"/><circle cx="198.7" cy="601.8" r="3.35"/><circle cx="296.2" cy="601.8" r="3.35"/><circle cx="92.4" cy="593.0" r="3.35"/><circle cx="101.2" cy="593.0" r="3.35"/><circle cx="110.1" cy="593.0" r="3.35"/><circle cx="119.0" cy="593.0" r="3.35"/><circle cx="127.8" cy="593.0" r="3.35"/><circle cx="136.7" cy="593.0" r="3.35"/><circle cx="145.5" cy="593.0" r="3.35"/><circle cx="154.4" cy="593.0" r="3.35"/><circle cx="163.3" cy="593.0" r="3.35"/><circle cx="172.1" cy="593.0" r="3.35"/><circle cx="181.0" cy="593.0" r="3.35"/><circle cx="189.8" cy="593.0" r="3.35"/><circle cx="198.7" cy="593.0" r="3.35"/><circle cx="216.4" cy="593.0" r="3.35"/><circle cx="234.1" cy="593.0" r="3.35"/><circle cx="278.4" cy="593.0" r="3.35"/><circle cx="287.3" cy="593.0" r="3.35"/><circle cx="83.5" cy="584.1" r="3.35"/><circle cx="92.4" cy="584.1" r="3.35"/><circle cx="101.2" cy="584.1" r="3.35"/><circle cx="110.1" cy="584.1" r="3.35"/><circle cx="119.0" cy="584.1" r="3.35"/><circle cx="127.8" cy="584.1" r="3.35"/><circle cx="136.7" cy="584.1" r="3.35"/><circle cx="145.5" cy="584.1" r="3.35"/><circle cx="154.4" cy="584.1" r="3.35"/><circle cx="172.1" cy="584.1" r="3.35"/><circle cx="181.0" cy="584.1" r="3.35"/><circle cx="189.8" cy="584.1" r="3.35"/><circle cx="207.6" cy="584.1" r="3.35"/><circle cx="234.1" cy="584.1" r="3.35"/><circle cx="287.3" cy="584.1" r="3.35"/><circle cx="92.4" cy="575.3" r="3.35"/><circle cx="101.2" cy="575.3" r="3.35"/><circle cx="110.1" cy="575.3" r="3.35"/><circle cx="119.0" cy="575.3" r="3.35"/><circle cx="127.8" cy="575.3" r="3.35"/><circle cx="136.7" cy="575.3" r="3.35"/><circle cx="145.5" cy="575.3" r="3.35"/><circle cx="154.4" cy="575.3" r="3.35"/><circle cx="163.3" cy="575.3" r="3.35"/><circle cx="172.1" cy="575.3" r="3.35"/><circle cx="181.0" cy="575.3" r="3.35"/><circle cx="189.8" cy="575.3" r="3.35"/><circle cx="207.6" cy="575.3" r="3.35"/><circle cx="251.9" cy="575.3" r="3.35"/><circle cx="92.4" cy="566.4" r="3.35"/><circle cx="119.0" cy="566.4" r="3.35"/><circle cx="127.8" cy="566.4" r="3.35"/><circle cx="136.7" cy="566.4" r="3.35"/><circle cx="145.5" cy="566.4" r="3.35"/><circle cx="154.4" cy="566.4" r="3.35"/><circle cx="189.8" cy="566.4" r="3.35"/><circle cx="198.7" cy="566.4" r="3.35"/><circle cx="101.2" cy="557.5" r="3.35"/><circle cx="110.1" cy="557.5" r="3.35"/><circle cx="127.8" cy="557.5" r="3.35"/><circle cx="136.7" cy="557.5" r="3.35"/><circle cx="145.5" cy="557.5" r="3.35"/><circle cx="154.4" cy="557.5" r="3.35"/><circle cx="198.7" cy="557.5" r="3.35"/><circle cx="145.5" cy="548.7" r="3.35"/><circle cx="154.4" cy="548.7" r="3.35"/><circle cx="163.3" cy="548.7" r="3.35"/><circle cx="181.0" cy="548.7" r="3.35"/><circle cx="216.4" cy="548.7" r="3.35"/><circle cx="234.1" cy="548.7" r="3.35"/><circle cx="269.6" cy="548.7" r="3.35"/><circle cx="296.2" cy="548.7" r="3.35"/><circle cx="110.1" cy="539.8" r="3.35"/><circle cx="136.7" cy="539.8" r="3.35"/><circle cx="145.5" cy="539.8" r="3.35"/><circle cx="163.3" cy="539.8" r="3.35"/><circle cx="198.7" cy="539.8" r="3.35"/><circle cx="198.7" cy="531.0" r="3.35"/><circle cx="154.4" cy="522.1" r="3.35"/><circle cx="145.5" cy="513.2" r="3.35"/><circle cx="322.7" cy="486.7" r="3.35"/></g>
<g fill="#000"><circle cx="410.5" cy="655.0" r="3.35"/><circle cx="419.4" cy="655.0" r="3.35"/><circle cx="428.2" cy="655.0" r="3.35"/><circle cx="437.1" cy="655.0" r="3.35"/><circle cx="445.9" cy="655.0" r="3.35"/><circle cx="454.8" cy="655.0" r="3.35"/><circle cx="463.7" cy="655.0" r="3.35"/><circle cx="472.5" cy="655.0" r="3.35"/><circle cx="490.2" cy="655.0" r="3.35"/><circle cx="499.1" cy="655.0" r="3.35"/><circle cx="508.0" cy="655.0" r="3.35"/><circle cx="516.8" cy="655.0" r="3.35"/><circle cx="525.7" cy="655.0" r="3.35"/><circle cx="578.8" cy="655.0" r="3.35"/><circle cx="383.9" cy="646.1" r="3.35"/><circle cx="410.5" cy="646.1" r="3.35"/><circle cx="419.4" cy="646.1" r="3.35"/><circle cx="437.1" cy="646.1" r="3.35"/><circle cx="445.9" cy="646.1" r="3.35"/><circle cx="454.8" cy="646.1" r="3.35"/><circle cx="463.7" cy="646.1" r="3.35"/><circle cx="472.5" cy="646.1" r="3.35"/><circle cx="481.4" cy="646.1" r="3.35"/><circle cx="490.2" cy="646.1" r="3.35"/><circle cx="508.0" cy="646.1" r="3.35"/><circle cx="516.8" cy="646.1" r="3.35"/><circle cx="392.8" cy="637.3" r="3.35"/><circle cx="401.6" cy="637.3" r="3.35"/><circle cx="410.5" cy="637.3" r="3.35"/><circle cx="437.1" cy="637.3" r="3.35"/><circle cx="445.9" cy="637.3" r="3.35"/><circle cx="454.8" cy="637.3" r="3.35"/><circle cx="463.7" cy="637.3" r="3.35"/><circle cx="472.5" cy="637.3" r="3.35"/><circle cx="481.4" cy="637.3" r="3.35"/><circle cx="499.1" cy="637.3" r="3.35"/><circle cx="525.7" cy="637.3" r="3.35"/><circle cx="570.0" cy="637.3" r="3.35"/><circle cx="578.8" cy="637.3" r="3.35"/><circle cx="401.6" cy="628.4" r="3.35"/><circle cx="410.5" cy="628.4" r="3.35"/><circle cx="437.1" cy="628.4" r="3.35"/><circle cx="445.9" cy="628.4" r="3.35"/><circle cx="454.8" cy="628.4" r="3.35"/><circle cx="463.7" cy="628.4" r="3.35"/><circle cx="472.5" cy="628.4" r="3.35"/><circle cx="481.4" cy="628.4" r="3.35"/><circle cx="499.1" cy="628.4" r="3.35"/><circle cx="534.5" cy="628.4" r="3.35"/><circle cx="383.9" cy="619.6" r="3.35"/><circle cx="401.6" cy="619.6" r="3.35"/><circle cx="410.5" cy="619.6" r="3.35"/><circle cx="419.4" cy="619.6" r="3.35"/><circle cx="428.2" cy="619.6" r="3.35"/><circle cx="437.1" cy="619.6" r="3.35"/><circle cx="445.9" cy="619.6" r="3.35"/><circle cx="454.8" cy="619.6" r="3.35"/><circle cx="463.7" cy="619.6" r="3.35"/><circle cx="481.4" cy="619.6" r="3.35"/><circle cx="490.2" cy="619.6" r="3.35"/><circle cx="499.1" cy="619.6" r="3.35"/><circle cx="508.0" cy="619.6" r="3.35"/><circle cx="516.8" cy="619.6" r="3.35"/><circle cx="578.8" cy="619.6" r="3.35"/><circle cx="419.4" cy="610.7" r="3.35"/><circle cx="428.2" cy="610.7" r="3.35"/><circle cx="437.1" cy="610.7" r="3.35"/><circle cx="445.9" cy="610.7" r="3.35"/><circle cx="454.8" cy="610.7" r="3.35"/><circle cx="463.7" cy="610.7" r="3.35"/><circle cx="481.4" cy="610.7" r="3.35"/><circle cx="516.8" cy="610.7" r="3.35"/><circle cx="525.7" cy="610.7" r="3.35"/><circle cx="534.5" cy="610.7" r="3.35"/><circle cx="543.4" cy="610.7" r="3.35"/><circle cx="570.0" cy="610.7" r="3.35"/><circle cx="428.2" cy="601.8" r="3.35"/><circle cx="445.9" cy="601.8" r="3.35"/><circle cx="454.8" cy="601.8" r="3.35"/><circle cx="472.5" cy="601.8" r="3.35"/><circle cx="481.4" cy="601.8" r="3.35"/><circle cx="490.2" cy="601.8" r="3.35"/><circle cx="508.0" cy="601.8" r="3.35"/><circle cx="516.8" cy="601.8" r="3.35"/><circle cx="392.8" cy="593.0" r="3.35"/><circle cx="401.6" cy="593.0" r="3.35"/><circle cx="428.2" cy="593.0" r="3.35"/><circle cx="445.9" cy="593.0" r="3.35"/><circle cx="454.8" cy="593.0" r="3.35"/><circle cx="463.7" cy="593.0" r="3.35"/><circle cx="481.4" cy="593.0" r="3.35"/><circle cx="499.1" cy="593.0" r="3.35"/><circle cx="516.8" cy="593.0" r="3.35"/><circle cx="419.4" cy="584.1" r="3.35"/><circle cx="428.2" cy="584.1" r="3.35"/><circle cx="445.9" cy="584.1" r="3.35"/><circle cx="454.8" cy="584.1" r="3.35"/><circle cx="463.7" cy="584.1" r="3.35"/><circle cx="481.4" cy="584.1" r="3.35"/><circle cx="490.2" cy="584.1" r="3.35"/><circle cx="552.3" cy="584.1" r="3.35"/><circle cx="578.8" cy="584.1" r="3.35"/><circle cx="419.4" cy="575.3" r="3.35"/><circle cx="437.1" cy="575.3" r="3.35"/><circle cx="445.9" cy="575.3" r="3.35"/><circle cx="454.8" cy="575.3" r="3.35"/><circle cx="472.5" cy="575.3" r="3.35"/><circle cx="490.2" cy="575.3" r="3.35"/><circle cx="508.0" cy="575.3" r="3.35"/><circle cx="516.8" cy="575.3" r="3.35"/><circle cx="472.5" cy="566.4" r="3.35"/><circle cx="472.5" cy="557.5" r="3.35"/><circle cx="570.0" cy="557.5" r="3.35"/><circle cx="490.2" cy="548.7" r="3.35"/><circle cx="499.1" cy="539.8" r="3.35"/></g>
<path d="M78.10,275.90 L84.44,271.73 L90.79,267.56 L97.13,263.39 L103.48,259.21 L109.82,255.04 L116.17,250.86 L122.51,246.67 L128.86,242.48 L135.20,238.29 L141.55,234.09 L147.89,229.88 L154.24,225.66 L160.58,221.42 L166.93,217.16 L173.27,212.86 L179.62,208.53 L185.96,204.13 L192.31,199.66 L198.65,195.09 L205.00,190.44 L211.34,185.69 L217.69,180.87 L224.03,176.00 L230.38,171.10 L236.72,166.16 L243.07,161.20 L249.41,156.23 L255.76,151.25 L262.11,146.26 L268.45,141.26 L274.79,136.25 L281.14,131.25 L287.48,126.24 L293.83,121.22 L300.17,116.20 L306.52,111.19 L312.87,106.17 L319.21,101.15 L325.55,96.12 L331.90,91.10 L331.90,110.10 L325.55,114.27 L319.21,118.43 L312.87,122.60 L306.52,126.77 L300.17,130.95 L293.83,135.12 L287.48,139.29 L281.14,143.47 L274.79,147.66 L268.45,151.84 L262.11,156.03 L255.76,160.23 L249.41,164.44 L243.07,168.66 L236.72,172.89 L230.38,177.14 L224.03,181.43 L217.69,185.75 L211.34,190.12 L205.00,194.56 L198.65,199.10 L192.31,203.72 L185.96,208.44 L179.62,213.23 L173.27,218.09 L166.93,222.98 L160.58,227.91 L154.24,232.86 L147.89,237.83 L141.55,242.81 L135.20,247.80 L128.86,252.80 L122.51,257.80 L116.17,262.80 L109.82,267.81 L103.48,272.83 L97.13,277.84 L90.79,282.86 L84.44,287.88 L78.10,292.90 Z" fill="#999999" fill-opacity="0.45"/>
<line x1="78.10" y1="284.40" x2="331.90" y2="100.60" stroke="#2B4BF2" stroke-width="3.0"/>
<path d="M392.30,269.00 L397.91,264.85 L403.51,260.70 L409.12,256.54 L414.73,252.38 L420.34,248.22 L425.94,244.04 L431.55,239.86 L437.16,235.68 L442.77,231.47 L448.38,227.26 L453.98,223.03 L459.59,218.77 L465.20,214.48 L470.81,210.15 L476.41,205.77 L482.02,201.32 L487.63,196.78 L493.24,192.14 L498.84,187.39 L504.45,182.53 L510.06,177.56 L515.67,172.51 L521.27,167.39 L526.88,162.22 L532.49,157.00 L538.10,151.76 L543.70,146.49 L549.31,141.20 L554.92,135.89 L560.53,130.58 L566.13,125.25 L571.74,119.92 L577.35,114.58 L582.96,109.24 L588.56,103.89 L594.17,98.54 L599.78,93.18 L605.38,87.82 L610.99,82.46 L616.60,77.10 L616.60,105.10 L610.99,109.24 L605.38,113.39 L599.78,117.53 L594.17,121.68 L588.56,125.84 L582.96,129.99 L577.35,134.15 L571.74,138.32 L566.13,142.49 L560.53,146.67 L554.92,150.86 L549.31,155.06 L543.70,159.28 L538.10,163.51 L532.49,167.77 L526.88,172.06 L521.27,176.39 L515.67,180.78 L510.06,185.23 L504.45,189.77 L498.84,194.42 L493.24,199.17 L487.63,204.04 L482.02,209.00 L476.41,214.06 L470.81,219.18 L465.20,224.36 L459.59,229.57 L453.98,234.82 L448.38,240.09 L442.77,245.38 L437.16,250.68 L431.55,256.00 L425.94,261.33 L420.34,266.66 L414.73,272.00 L409.12,277.34 L403.51,282.69 L397.91,288.04 L392.30,293.40 Z" fill="#999999" fill-opacity="0.45"/>
<line x1="392.30" y1="281.20" x2="616.60" y2="91.10" stroke="#2B4BF2" stroke-width="3.0"/>
<path d="M74.66,621.69 L80.86,620.86 L87.06,620.01 L93.27,619.17 L99.47,618.31 L105.67,617.45 L111.87,616.56 L118.07,615.66 L124.28,614.72 L130.48,613.74 L136.68,612.68 L142.88,611.54 L149.08,610.29 L155.29,608.96 L161.49,607.55 L167.69,606.08 L173.89,604.58 L180.09,603.06 L186.30,601.52 L192.50,599.97 L198.70,598.41 L204.90,596.84 L211.10,595.27 L217.31,593.69 L223.51,592.12 L229.71,590.53 L235.91,588.95 L242.11,587.37 L248.32,585.78 L254.52,584.19 L260.72,582.61 L266.92,581.02 L273.12,579.43 L279.33,577.84 L285.53,576.25 L291.73,574.66 L297.93,573.06 L304.13,571.47 L310.34,569.88 L316.54,568.29 L322.74,566.70 L322.74,589.50 L316.54,590.31 L310.34,591.13 L304.13,591.95 L297.93,592.77 L291.73,593.58 L285.53,594.40 L279.33,595.22 L273.12,596.04 L266.92,596.86 L260.72,597.68 L254.52,598.51 L248.32,599.33 L242.11,600.15 L235.91,600.98 L229.71,601.81 L223.51,602.63 L217.31,603.47 L211.10,604.30 L204.90,605.14 L198.70,605.98 L192.50,606.83 L186.30,607.69 L180.09,608.56 L173.89,609.44 L167.69,610.35 L161.49,611.30 L155.29,612.30 L149.08,613.37 L142.88,614.54 L136.68,615.81 L130.48,617.16 L124.28,618.59 L118.07,620.06 L111.87,621.56 L105.67,623.09 L99.47,624.64 L93.27,626.19 L87.06,627.75 L80.86,629.32 L74.66,630.89 Z" fill="#999999" fill-opacity="0.45"/>
<line x1="74.66" y1="626.29" x2="322.74" y2="578.10" stroke="#2B4BF2" stroke-width="3.0"/>
<path d="M383.92,626.18 L388.79,626.06 L393.67,625.93 L398.54,625.80 L403.41,625.66 L408.28,625.52 L413.16,625.37 L418.03,625.22 L422.90,625.04 L427.78,624.86 L432.65,624.65 L437.52,624.41 L442.40,624.14 L447.27,623.81 L452.14,623.42 L457.01,622.95 L461.89,622.39 L466.76,621.74 L471.63,621.00 L476.51,620.19 L481.38,619.33 L486.25,618.42 L491.13,617.48 L496.00,616.51 L500.87,615.53 L505.74,614.54 L510.62,613.53 L515.49,612.51 L520.36,611.49 L525.24,610.46 L530.11,609.43 L534.98,608.39 L539.86,607.35 L544.73,606.31 L549.60,605.26 L554.47,604.22 L559.35,603.17 L564.22,602.12 L569.09,601.07 L573.97,600.02 L578.84,598.97 L578.84,622.97 L573.97,623.07 L569.09,623.18 L564.22,623.29 L559.35,623.40 L554.47,623.52 L549.60,623.63 L544.73,623.75 L539.86,623.87 L534.98,623.99 L530.11,624.11 L525.24,624.24 L520.36,624.37 L515.49,624.51 L510.62,624.65 L505.74,624.81 L500.87,624.97 L496.00,625.15 L491.13,625.34 L486.25,625.56 L481.38,625.82 L476.51,626.11 L471.63,626.47 L466.76,626.89 L461.89,627.40 L457.01,628.00 L452.14,628.69 L447.27,629.46 L442.40,630.29 L437.52,631.18 L432.65,632.10 L427.78,633.06 L422.90,634.03 L418.03,635.02 L413.16,636.02 L408.28,637.03 L403.41,638.05 L398.54,639.08 L393.67,640.11 L388.79,641.14 L383.92,642.18 Z" fill="#999999" fill-opacity="0.45"/>
<line x1="383.92" y1="634.18" x2="578.84" y2="610.97" stroke="#2B4BF2" stroke-width="3.0"/>
<line x1="311.50" x2="311.50" y1="225.20" y2="271.60" stroke="#2B4BF2" stroke-width="1.4"/>
<line x1="311.50" x2="311.50" y1="303.10" y2="314.60" stroke="#2B4BF2" stroke-width="1.4"/>
<rect x="296.90" y="271.60" width="29.20" height="31.50" fill="#fff" stroke="#2B4BF2" stroke-width="1.4"/>
<line x1="296.90" x2="326.10" y1="288.90" y2="288.90" stroke="#2B4BF2" stroke-width="2.8"/>
<circle cx="311.50" cy="137.50" r="3.3" fill="#2B4BF2"/>
<circle cx="311.50" cy="149.20" r="3.3" fill="#2B4BF2"/>
<circle cx="311.50" cy="177.60" r="3.3" fill="#2B4BF2"/>
<circle cx="311.50" cy="184.10" r="3.3" fill="#2B4BF2"/>
<circle cx="311.50" cy="194.90" r="3.3" fill="#2B4BF2"/>
<circle cx="311.50" cy="198.00" r="3.3" fill="#2B4BF2"/>
<circle cx="311.50" cy="201.50" r="3.3" fill="#2B4BF2"/>
<circle cx="311.50" cy="205.30" r="3.3" fill="#2B4BF2"/>
<circle cx="311.50" cy="215.80" r="3.3" fill="#2B4BF2"/>
<line x1="608.10" x2="608.10" y1="233.80" y2="277.10" stroke="#2B4BF2" stroke-width="1.4"/>
<line x1="608.10" x2="608.10" y1="306.20" y2="314.60" stroke="#2B4BF2" stroke-width="1.4"/>
<rect x="593.50" y="277.10" width="29.20" height="29.10" fill="#fff" stroke="#2B4BF2" stroke-width="1.4"/>
<line x1="593.50" x2="622.70" y1="294.40" y2="294.40" stroke="#2B4BF2" stroke-width="2.8"/>
<circle cx="608.10" cy="204.40" r="3.3" fill="#2B4BF2"/>
<circle cx="608.10" cy="221.70" r="3.3" fill="#2B4BF2"/>
<line x1="313.88" x2="313.88" y1="530.96" y2="592.98" stroke="#2B4BF2" stroke-width="1.4"/>
<line x1="313.88" x2="313.88" y1="637.28" y2="655.00" stroke="#2B4BF2" stroke-width="1.4"/>
<rect x="300.48" y="592.98" width="26.80" height="44.30" fill="#fff" stroke="#2B4BF2" stroke-width="1.4"/>
<line x1="300.48" x2="327.28" y1="619.56" y2="619.56" stroke="#2B4BF2" stroke-width="2.8"/>
<circle cx="313.88" cy="522.10" r="3.3" fill="#2B4BF2"/>
<circle cx="313.88" cy="513.24" r="3.3" fill="#2B4BF2"/>
<circle cx="313.88" cy="504.38" r="3.3" fill="#2B4BF2"/>
<circle cx="313.88" cy="495.52" r="3.3" fill="#2B4BF2"/>
<circle cx="313.88" cy="477.80" r="3.3" fill="#2B4BF2"/>
<line x1="614.10" x2="614.10" y1="495.52" y2="566.40" stroke="#2B4BF2" stroke-width="1.4"/>
<line x1="614.10" x2="614.10" y1="619.56" y2="655.00" stroke="#2B4BF2" stroke-width="1.4"/>
<rect x="600.70" y="566.40" width="26.80" height="53.16" fill="#fff" stroke="#2B4BF2" stroke-width="1.4"/>
<line x1="600.70" x2="627.50" y1="592.98" y2="592.98" stroke="#2B4BF2" stroke-width="2.8"/>
<circle cx="614.10" cy="477.80" r="3.3" fill="#2B4BF2"/>
<text x="49.70" y="319.30" font-size="12.4" fill="#4d4d4d" text-anchor="end">0</text>
<text x="69.52" y="344.00" font-size="12.4" fill="#4d4d4d" text-anchor="middle">0</text>
<text x="366.02" y="344.00" font-size="12.4" fill="#4d4d4d" text-anchor="middle">0</text>
<text x="49.70" y="246.48" font-size="12.4" fill="#4d4d4d" text-anchor="end">25</text>
<text x="142.39" y="344.00" font-size="12.4" fill="#4d4d4d" text-anchor="middle">25</text>
<text x="438.89" y="344.00" font-size="12.4" fill="#4d4d4d" text-anchor="middle">25</text>
<text x="49.70" y="173.65" font-size="12.4" fill="#4d4d4d" text-anchor="end">50</text>
<text x="215.27" y="344.00" font-size="12.4" fill="#4d4d4d" text-anchor="middle">50</text>
<text x="511.77" y="344.00" font-size="12.4" fill="#4d4d4d" text-anchor="middle">50</text>
<text x="49.70" y="100.83" font-size="12.4" fill="#4d4d4d" text-anchor="end">75</text>
<text x="288.14" y="344.00" font-size="12.4" fill="#4d4d4d" text-anchor="middle">75</text>
<text x="584.64" y="344.00" font-size="12.4" fill="#4d4d4d" text-anchor="middle">75</text>
<text x="648.20" y="319.30" font-size="12.4" fill="#4d4d4d" text-anchor="start">0</text>
<text x="648.20" y="290.17" font-size="12.4" fill="#4d4d4d" text-anchor="start">10</text>
<text x="648.20" y="261.04" font-size="12.4" fill="#4d4d4d" text-anchor="start">20</text>
<text x="648.20" y="231.91" font-size="12.4" fill="#4d4d4d" text-anchor="start">30</text>
<text x="648.20" y="202.78" font-size="12.4" fill="#4d4d4d" text-anchor="start">40</text>
<text x="648.20" y="173.65" font-size="12.4" fill="#4d4d4d" text-anchor="start">50</text>
<text x="45.50" y="659.30" font-size="12.4" fill="#4d4d4d" text-anchor="end">0</text>
<text x="652.10" y="659.30" font-size="12.4" fill="#4d4d4d" text-anchor="start">0</text>
<text x="45.50" y="615.00" font-size="12.4" fill="#4d4d4d" text-anchor="end">5</text>
<text x="652.10" y="615.00" font-size="12.4" fill="#4d4d4d" text-anchor="start">5</text>
<text x="45.50" y="570.70" font-size="12.4" fill="#4d4d4d" text-anchor="end">10</text>
<text x="652.10" y="570.70" font-size="12.4" fill="#4d4d4d" text-anchor="start">10</text>
<text x="45.50" y="526.40" font-size="12.4" fill="#4d4d4d" text-anchor="end">15</text>
<text x="652.10" y="526.40" font-size="12.4" fill="#4d4d4d" text-anchor="start">15</text>
<text x="45.50" y="482.10" font-size="12.4" fill="#4d4d4d" text-anchor="end">20</text>
<text x="652.10" y="482.10" font-size="12.4" fill="#4d4d4d" text-anchor="start">20</text>
<text x="65.80" y="679.80" font-size="12.4" fill="#4d4d4d" text-anchor="middle">0</text>
<text x="366.20" y="679.80" font-size="12.4" fill="#4d4d4d" text-anchor="middle">0</text>
<text x="154.40" y="679.80" font-size="12.4" fill="#4d4d4d" text-anchor="middle">10</text>
<text x="454.80" y="679.80" font-size="12.4" fill="#4d4d4d" text-anchor="middle">10</text>
<text x="243.00" y="679.80" font-size="12.4" fill="#4d4d4d" text-anchor="middle">20</text>
<text x="543.40" y="679.80" font-size="12.4" fill="#4d4d4d" text-anchor="middle">20</text>
<text x="331.60" y="679.80" font-size="12.4" fill="#4d4d4d" text-anchor="middle">30</text>
<text x="632.00" y="679.80" font-size="12.4" fill="#4d4d4d" text-anchor="middle">30</text>
<text x="200.00" y="32.60" font-size="12.4" fill="#1a1a1a" text-anchor="middle">self-expandable</text>
<text x="496.90" y="32.60" font-size="12.4" fill="#1a1a1a" text-anchor="middle">balloon-expandable</text>
<text x="198.70" y="462.30" font-size="12.4" fill="#1a1a1a" text-anchor="middle">self-expandable</text>
<text x="499.30" y="462.30" font-size="12.4" fill="#1a1a1a" text-anchor="middle">balloon-expandable</text>
<text x="348.75" y="361.80" font-size="15.6" fill="#000" text-anchor="middle">Non-invasive Gradient (mmHg)</text>
<text x="348.90" y="697.20" font-size="15.6" fill="#000" text-anchor="middle">Non-invasive Gradient (mmHg)</text>
<text x="27.80" y="183.85" font-size="15.6" fill="#000" text-anchor="middle" transform="rotate(-90 27.80 183.85)">Invasive Gradient (mmHg)</text>
<text x="24.30" y="565.85" font-size="15.6" fill="#000" text-anchor="middle" transform="rotate(-90 24.30 565.85)">Invasive Gradient (mmHg)</text>
<text x="669.40" y="184.25" font-size="15.6" fill="#000" text-anchor="middle" transform="rotate(90 669.40 184.25)">Absolute discrepancy [mmHg]</text>
<text x="673.40" y="566.05" font-size="15.6" fill="#000" text-anchor="middle" transform="rotate(90 673.40 566.05)">Absolute discrepancy [mmHg]</text>
<text x="0.90" y="13.60" font-size="18" fill="#000" text-anchor="start">A</text>
<text x="0.60" y="396.20" font-size="18" fill="#000" text-anchor="start">B</text>
</svg>
</body></html>
